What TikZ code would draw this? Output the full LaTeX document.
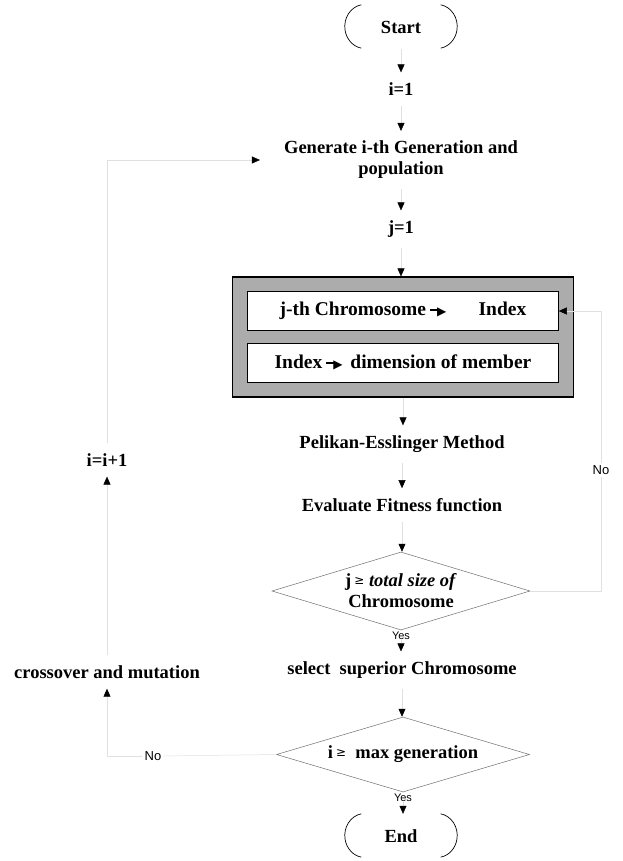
\documentclass[tikz,border=0pt]{standalone}
\usepackage{fontspec}
\setmainfont{Liberation Serif}
\newfontfamily\gasansfont{Liberation Sans}
\newfontfamily\gasymfont{DejaVu Sans}
\usetikzlibrary{arrows.meta,positioning,shapes.geometric}
\definecolor{GaInk}{RGB}{0,0,0}
\definecolor{GaLine}{RGB}{224,224,224}
\definecolor{GaShade}{RGB}{172,172,172}
\definecolor{GaEdge}{RGB}{110,110,110}
\newcommand{\gaarrow}{\kern4pt\raisebox{5pt}{\rule{8pt}{1.5pt}}\kern-1pt\raisebox{0.3pt}{\gasymfont\fontsize{12}{12}\selectfont ▶}\kern3pt}
\newcommand{\gageq}{\,\raisebox{2pt}{\gasymfont\mdseries\fontsize{12}{12}\selectfont ≥}}
\tikzset{
  gaf/text/.style={
    font=\fontsize{18.5}{21}\selectfont\bfseries,
    align=center,
    text=GaInk,
    inner xsep=4pt,
    inner ysep=10pt
  },
  gaf/term/.style={
    font=\fontsize{18.5}{21}\selectfont\bfseries,
    text=GaInk,
    minimum width=113pt,
    minimum height=44pt,
    inner sep=0pt
  },
  gaf/termline/.style={draw=GaInk, line width=0.7pt},
  gaf/frame/.style={
    draw=GaInk,
    line width=1.2pt,
    fill=GaShade,
    minimum width=341pt,
    minimum height=120pt,
    inner sep=0pt
  },
  gaf/inner/.style={
    draw=GaInk,
    line width=0.6pt,
    fill=white,
    text=GaInk,
    minimum width=311pt,
    minimum height=39pt,
    inner sep=0pt,
    font=\fontsize{19.5}{21}\selectfont\bfseries
  },
  gaf/decision/.style={diamond, draw=GaEdge, line width=0.5pt, inner sep=0pt},
  gaf/yes/.style={font=\gasansfont\fontsize{11}{11}\selectfont, inner sep=1pt, fill=white},
  gaf/no/.style={font=\gasansfont\fontsize{13}{13}\selectfont, inner sep=2pt},
  gaf/line/.style={draw=GaLine, line width=0.5pt},
  gaf/arrow/.style={-{Triangle[length=8pt,width=7pt,color=GaInk]}, draw=GaLine, line width=0.5pt}
}

\begin{document}
\begin{tikzpicture}[x=1pt,y=1pt]
  \useasboundingbox (0,0) rectangle (622,-861);
  % main column
  \node[gaf/term] (st) at (401,-27) {Start};
  \node[gaf/text] (ione) at (401,-89) {i=1};
  \node[gaf/text,inner xsep=24pt] (gen) at (401,-160) {Generate i-th Generation and\\population};
  \node[gaf/text] (jone) at (401,-229) {j=1};
  \node[gaf/frame] (blk) at (403,-337) {};
  \node[gaf/inner] (inA) at (403,-311) {j-th Chromosome\gaarrow\quad\ \ Index};
  \node[gaf/inner] (inB) at (403,-362.5) {Index\gaarrow\ dimension of member};
  \node[gaf/text] (pel) at (402,-444) {Pelikan-Esslinger Method};
  \node[gaf/text] (eval) at (402,-505) {Evaluate Fitness function};
  \node[gaf/decision,minimum width=258pt,minimum height=78pt] (decA) at (401,-591) {};
  \node[gaf/text,inner ysep=0pt] (decAtxt) at (decA) {j\gageq\ \textit{total size of}\\Chromosome};
  \node[gaf/text] (sel) at (402,-670) {select\ \ superior Chromosome};
  \node[gaf/decision,minimum width=253pt,minimum height=75pt] (decB) at (403,-754.5) {};
  \node[gaf/text,inner ysep=0pt] (decBtxt) at (decB) {i\gageq\ \ max generation};
  \node[gaf/term] (fin) at (401,-836) {End};
  % side loops
  \node[gaf/text] (inc) at (107,-460) {i=i+1};
  \node[gaf/text] (cross) at (107,-672) {crossover and mutation};
  \node[gaf/no] (noA) at (601,-470) {No};
  \node[gaf/no] (noB) at (153,-756) {No};
  % terminator ends
  \foreach \t in {st,fin}{
    \draw[gaf/termline] ([xshift=17pt]\t.north west) arc[start angle=100,end angle=260,x radius=20pt,y radius=22pt];
    \draw[gaf/termline] ([xshift=-17pt]\t.north east) arc[start angle=80,end angle=-80,x radius=20pt,y radius=22pt];
  }
  % connectors
  \foreach \a/\b in {st/ione,ione/gen,gen/jone,jone/blk,blk/pel,pel/eval,eval/decA,sel/decB}
    \draw[gaf/arrow] (\a.south) -- (\a.south |- \b.north);
  \draw[gaf/arrow] (decA.south) -- node[gaf/yes,at start,anchor=north] (yesA) {Yes} (decA.south |- sel.north);
  \draw[gaf/arrow] (decB.south) -- node[gaf/yes,at start,anchor=north] (yesB) {Yes} (decB.south |- fin.north);
  \draw[gaf/line] (decA.east) -| (noA.south);
  \draw[gaf/arrow] (noA.north) |- (inA.east);
  \draw[gaf/line] (decB.west) -- (noB.east);
  \draw[gaf/arrow] (noB.west) -| (cross.south);
  \draw[gaf/arrow] (cross.north) -- (inc.south);
  \draw[gaf/arrow] (inc.north) |- (gen.west);
\end{tikzpicture}
\end{document}
